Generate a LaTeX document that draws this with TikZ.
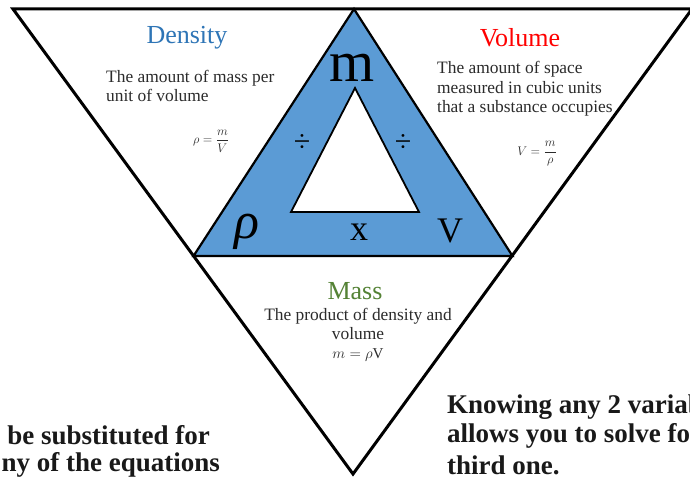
\RequirePackage{fix-cm}
\documentclass[tikz,border=0pt]{standalone}
\usepackage{fontspec}
\setmainfont{Liberation Serif}
\definecolor{triblue}{HTML}{5B9BD5}
\definecolor{densblue}{HTML}{2E75B6}
\definecolor{massgreen}{HTML}{548235}
\definecolor{bodygray}{HTML}{2B2B2B}
\definecolor{mathgray}{HTML}{2B2B2B}
\begin{document}
\begin{tikzpicture}[x=1pt,y=-1pt,
  desc/.style={text=bodygray, font=\fontsize{17.4}{19.5}\selectfont, inner sep=0},
  heading/.style={font=\fontsize{26}{30}\selectfont, inner sep=0},
  formula/.style={text=mathgray, font=\fontsize{12.5}{14}\selectfont, inner sep=0},
  sym/.style={inner sep=0, text=black},
  note/.style={font=\bfseries\fontsize{27}{30}\selectfont, inner sep=0, text=black!90},
  outline/.style={draw=black, line width=3pt, line join=miter},
  bandline/.style={draw=black, line width=2.2pt, line join=miter},
  holeline/.style={draw=black, line width=1.8pt, line join=miter}]
\useasboundingbox (0,0) rectangle (690,478);
\clip (0,0) rectangle (690,478);
\fill[white] (0,0) rectangle (690,478);
% corners
\coordinate (TL) at (13,9);
\coordinate (TR) at (692,9);
\coordinate (B) at (353,474);
\coordinate (M) at (354,9);
\coordinate (L) at (193.5,256);
\coordinate (R) at (512.5,256);
\coordinate (IT) at (355,88);
\coordinate (IL) at (291,212);
\coordinate (IR) at (419,212);
% outer inverted triangle
\draw[outline] (TL) -- (TR) -- (B) -- cycle;
% blue band triangle
\filldraw[fill=triblue, bandline] (M) -- (R) -- (L) -- cycle;
% inner hole
\filldraw[fill=white, holeline] (IT) -- (IR) -- (IL) -- cycle;
% symbols
\node[sym, font=\fontsize{58}{60}\selectfont] (sm) at (352,68) {m};
\node[sym, font=\fontsize{30}{30}\selectfont] (d1) at (302,143) {÷};
\node[sym, font=\fontsize{30}{30}\selectfont] (d2) at (403,143) {÷};
\node[sym, font=\itshape\fontsize{52}{52}\selectfont] (srho) at (247,232) {ρ};
\node[sym, font=\fontsize{36}{36}\selectfont] (sx) at (359,232) {x};
\node[sym, font=\fontsize{36}{36}\selectfont] (sV) at (450,231) {V};
% density
\node[heading, text=densblue] (dens) at (187,38) {Density};
\node[desc, anchor=west, align=left] (densd) at (106,86) {The amount of mass per\\unit of volume};
\node[formula] (densf) at (211,141) {$\rho = \displaystyle\frac{m}{V}$};
% volume
\node[heading, text=red] (vol) at (520,38) {Volume};
\node[desc, anchor=west, align=left] (vold) at (437,89) {The amount of space\\measured in cubic units\\that a substance occupies};
\node[formula] (volf) at (537,154) {$V = \displaystyle\frac{m}{\rho}$};
% mass
\node[heading, text=massgreen] (mass) at (355,291) {Mass};
\node[desc, align=center] (massd) at (358,324) {The product of density and\\volume};
\node[formula, font=\fontsize{15}{17}\selectfont] (massf) at (358,355) {$m = \rho\mathrm{V}$};
% notes
\node[note, anchor=east] (nl1) at (210,435) {be substituted for};
\node[note, anchor=east] (nl2) at (220,465) {ny of the equations};
\node[note, anchor=west] (nr1) at (447,407) {Knowing any 2 variab};
\node[note, anchor=west] (nr2) at (447,436) {allows you to solve fo};
\node[note, anchor=west] (nr3) at (447,465) {third one.};
\end{tikzpicture}
\end{document}
